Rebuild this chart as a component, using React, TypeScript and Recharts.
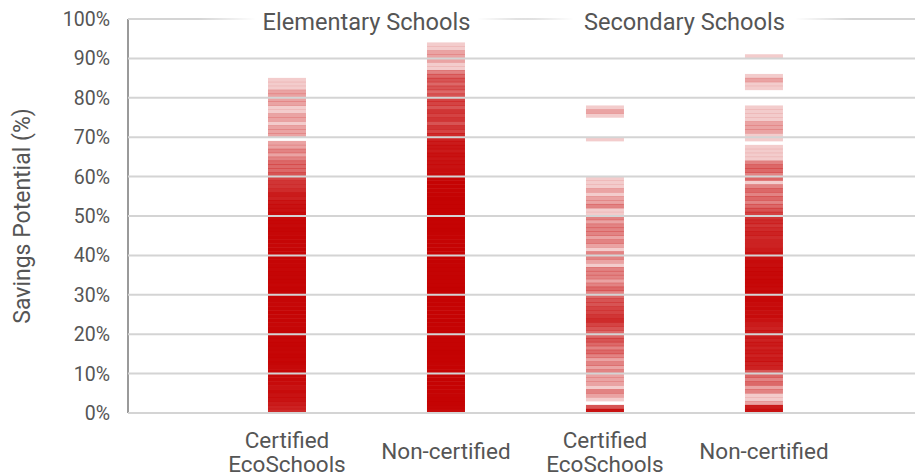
import React from "react"
import { ScatterChart, Scatter, XAxis, YAxis, ReferenceLine, ReferenceDot } from "recharts"

// Number of schools whose savings potential falls in each 1% bin (index = bin start, 0% upward)
const elemCertified = [
  8, 9, 10, 12, 12, 14, 12, 14, 15, 15,
  16, 15, 17, 16, 18, 16, 17, 18, 16, 17,
  18, 17, 16, 18, 17, 19, 18, 16, 17, 18,
  17, 18, 16, 18, 17, 18, 16, 17, 18, 17,
  18, 17, 16, 17, 18, 16, 17, 15, 16, 14,
  14, 12, 12, 11, 9, 10, 8, 7, 7, 6,
  5, 4, 4, 4, 3, 2, 3, 2, 2, 0,
  2, 2, 2, 1, 2, 2, 1, 1, 2, 2,
  2, 2, 1, 1, 1,
]
const elemNonCertified = [
  14, 18, 20, 20, 19, 20, 20, 20, 21, 20,
  20, 20, 19, 20, 20, 21, 20, 20, 20, 19,
  20, 20, 20, 21, 20, 20, 19, 20, 20, 20,
  20, 21, 20, 20, 20, 19, 20, 20, 21, 20,
  20, 20, 20, 19, 20, 20, 21, 20, 20, 20,
  19, 20, 20, 20, 21, 20, 19, 20, 20, 18,
  14, 13, 12, 12, 11, 12, 10, 11, 10, 9,
  8, 6, 7, 5, 7, 6, 7, 5, 6, 6,
  5, 4, 5, 4, 5, 4, 3, 1, 1, 2,
  2, 2, 1, 1,
]
const secCertified = [
  12, 5, 0, 1, 2, 3, 1, 2, 2, 2,
  3, 2, 3, 2, 3, 4, 3, 4, 5, 4,
  4, 5, 6, 8, 7, 6, 6, 5, 5, 4,
  3, 4, 3, 2, 3, 3, 3, 1, 2, 3,
  3, 1, 2, 3, 2, 3, 3, 3, 2, 3,
  1, 1, 3, 2, 2, 1, 2, 1, 1, 1,
  0, 0, 0, 0, 0, 0, 0, 0, 0, 1,
  0, 0, 0, 0, 0, 1, 2, 1,
]
const secNonCertified = [
  12, 10, 2, 1, 1, 3, 2, 4, 3, 4,
  5, 9, 9, 10, 9, 10, 9, 10, 9, 10,
  10, 9, 10, 12, 14, 13, 15, 14, 16, 15,
  16, 14, 15, 16, 14, 15, 14, 13, 14, 12,
  12, 10, 9, 9, 8, 9, 8, 7, 8, 7,
  6, 5, 4, 3, 4, 3, 4, 3, 1, 4,
  3, 4, 4, 3, 1, 1, 1, 1, 0, 1,
  1, 2, 2, 2, 1, 1, 1, 1, 0, 0,
  0, 0, 1, 1, 2, 1, 0, 0, 0, 0,
  1,
]

const categoryLabels = ["Certified\nEcoSchools", "Non-certified", "Certified\nEcoSchools", "Non-certified"]
const groupTitles = ["Elementary Schools", "Secondary Schools"]
const yTicks = [0, 10, 20, 30, 40, 50, 60, 70, 80, 90, 100]

const RED = "#c40000"
const TEXT = "#555555"
const FONT = "Roboto, sans-serif"

const toPoints = (counts: number[], x: number) =>
  counts.map((count, i) => ({ x, y: i + 0.5, count })).filter(p => p.count > 0)

const series = [elemCertified, elemNonCertified, secCertified, secNonCertified]

// one translucent strip per bin, darker where more schools overlap
const StripShape = (props: any) => {
  const { cx, cy, payload } = props
  if (cx == null || cy == null) return null
  const alpha = 1 - Math.pow(0.8, payload.count)
  return <rect x={cx - 19} y={cy - 2.2} width={38} height={4.4} fill={RED} fillOpacity={alpha} />
}

const CategoryTick = (props: any) => {
  const { x, y, payload } = props
  const lines = categoryLabels[payload.value - 1].split("\n")
  const start = lines.length > 1 ? y + 34.5 : y + 45.5
  return (
    <g>
      {lines.map((l: string, i: number) => (
        <text key={i} x={x} y={start + i * 24} textAnchor="middle" fill={TEXT} fontSize={22.5} fontFamily={FONT}>
          {l}
        </text>
      ))}
    </g>
  )
}

const makeTitle = (title: string) => (props: any) => {
  const { cx, cy } = props
  const id = "fade" + title.replace(/\s/g, "")
  return (
    <g>
      <defs>
        <linearGradient id={id} x1="0" x2="1" y1="0" y2="0">
          <stop offset="0" stopColor="#fff" stopOpacity={0} />
          <stop offset="0.17" stopColor="#fff" stopOpacity={1} />
          <stop offset="0.83" stopColor="#fff" stopOpacity={1} />
          <stop offset="1" stopColor="#fff" stopOpacity={0} />
        </linearGradient>
      </defs>
      <rect x={cx - 168} y={cy - 8} width={336} height={16} fill={`url(#${id})`} />
      <text x={cx} y={cy + 10.5} textAnchor="middle" fill={TEXT} fontSize={23.6} fontFamily={FONT}>
        {title}
      </text>
    </g>
  )
}

export default function App() {
  return (
    <div style={{ position: "absolute", left: 0, top: 0, width: 915, height: 476, background: "#fff", overflow: "hidden" }}>
      <ScatterChart width={915} height={476} margin={{ top: 19, right: 0, bottom: 0, left: 0 }}>
        <XAxis
          type="number"
          dataKey="x"
          domain={[0, 4.95]}
          ticks={[1, 2, 3, 4]}
          height={63}
          axisLine={false}
          tickLine={false}
          tickSize={0}
          tickMargin={0}
          interval={0}
          tick={<CategoryTick />}
        />
        <YAxis
          type="number"
          dataKey="y"
          domain={[0, 100]}
          ticks={yTicks}
          width={128}
          tickLine={false}
          tickSize={10}
          tickMargin={8}
          axisLine={{ stroke: "#9a9a9a", strokeWidth: 2 }}
          tickFormatter={(v: number) => `${v}%`}
          tick={{ fill: TEXT, fontSize: 19.5, fontFamily: FONT }}
          label={({ viewBox }: any) => {
            const cy = viewBox.y + viewBox.height / 2
            return (
              <text x={22} y={cy} transform={`rotate(-90, 22, ${cy})`} textAnchor="middle"
                dominantBaseline="central" fill={TEXT} fontSize={23} fontFamily={FONT}>
                Savings Potential (%)
              </text>
            )
          }}
        />
        {series.map((counts, i) => (
          <Scatter key={i} data={toPoints(counts, i + 1)} shape={StripShape} isAnimationActive={false} />
        ))}
        {yTicks.map(t => (
          <ReferenceLine key={t} y={t} stroke="#d4d4d4" strokeWidth={2} zIndex={650} />
        ))}
        {groupTitles.map((t, i) => (
          <ReferenceDot key={t} x={1.5 + i * 2} y={100} r={0} shape={makeTitle(t)} zIndex={700} />
        ))}
      </ScatterChart>
    </div>
  )
}
